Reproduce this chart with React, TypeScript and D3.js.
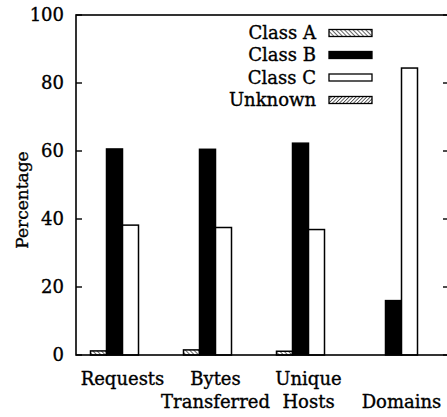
import React from "react";
import * as d3 from "d3";

const categories: string[][] = [["Requests"], ["Bytes", "Transferred"], ["Unique", "Hosts"], ["Domains"]];
const seriesNames = ["Class A", "Class B", "Class C", "Unknown"];
const classA = [1.2, 1.5, 1.1, 0];
const classB = [60.6, 60.5, 62.3, 16];
const classC = [38.2, 37.5, 36.9, 84.4];
const unknown = [0, 0, 0, 0];
const yTicks = [0, 20, 40, 60, 80, 100];

const series = [classA, classB, classC, unknown];
const fills = ["url(#hatchA)", "#000", "#fff", "url(#hatchU)"];

const W = 447, H = 417;
const left = 76, right = 448, top = 15, bottom = 355;
const font = "'DejaVu Serif', serif";

export default function App() {
  const x = d3.scaleBand<number>().domain(d3.range(categories.length)).range([left, right]).padding(0);
  const groupW = 64;
  const xs = d3.scaleBand<number>().domain(d3.range(series.length)).range([0, groupW]).padding(0);
  const y = d3.scaleLinear().domain([0, 100]).range([bottom, top]);
  const legendY = [33, 55, 77.5, 100];
  const txt = { stroke: "#000", strokeWidth: 0.35 };

  return (
    <svg width={W} height={H} style={{ position: "absolute", left: 0, top: 0, background: "#fff" }} fontFamily={font}>
      <defs>
        <pattern id="hatchA" patternUnits="userSpaceOnUse" width="3" height="3" patternTransform="rotate(-45)">
          <rect width="3" height="3" fill="#fff" />
          <line x1="0" y1="0" x2="0" y2="3" stroke="#000" strokeWidth="1.2" />
        </pattern>
        <pattern id="hatchU" patternUnits="userSpaceOnUse" width="2.5" height="2.5" patternTransform="rotate(45)">
          <rect width="2.5" height="2.5" fill="#fff" />
          <line x1="0" y1="0" x2="0" y2="2.5" stroke="#000" strokeWidth="1.2" />
        </pattern>
      </defs>
      <rect width={W} height={H} fill="#fff" />
      {categories.map((c, i) => {
        const gx = x(i)! + x.bandwidth() / 2 - groupW / 2;
        return series.map((s, j) => {
          const v = s[i];
          if (v <= 0) return null;
          return (
            <rect key={`${i}-${j}`} x={gx + xs(j)!} y={y(v)} width={xs.bandwidth()} height={y(0) - y(v)}
              fill={fills[j]} stroke="#000" strokeWidth={1.5} />
          );
        });
      })}
      <rect x={left} y={top} width={right - left} height={bottom - top} fill="none" stroke="#000" strokeWidth={1.6} />
      {yTicks.map((t) => (
        <g key={t}>
          <line x1={left} x2={left + 6} y1={y(t)} y2={y(t)} stroke="#000" strokeWidth={1.4} />
          <line x1={right - 5} x2={right} y1={y(t)} y2={y(t)} stroke="#000" strokeWidth={1.4} />
          <text x={left - 12} y={y(t)} dy="0.36em" textAnchor="end" fontSize={18} {...txt}>{t}</text>
        </g>
      ))}
      {categories.map((lines, i) => {
        const cx = x(i)! + x.bandwidth() / 2;
        return lines.map((ln, k) => {
          const row = lines.length === 1 && i === categories.length - 1 ? 1 : k;
          return (
            <text key={`${i}-${k}`} x={cx} y={385 + row * 23} textAnchor="middle" fontSize={18} {...txt}>{ln}</text>
          );
        });
      })}
      <text transform={`translate(28, 200) rotate(-90)`} textAnchor="middle" fontSize={17} {...txt}>Percentage</text>
      {seriesNames.map((n, j) => (
        <g key={n}>
          <text x={316} y={legendY[j]} dy="0.36em" textAnchor="end" fontSize={18} {...txt}>{n}</text>
          <rect x={329} y={legendY[j] - 3.5} width={43} height={7} fill={fills[j]} stroke="#000" strokeWidth={1.3} />
        </g>
      ))}
    </svg>
  );
}
